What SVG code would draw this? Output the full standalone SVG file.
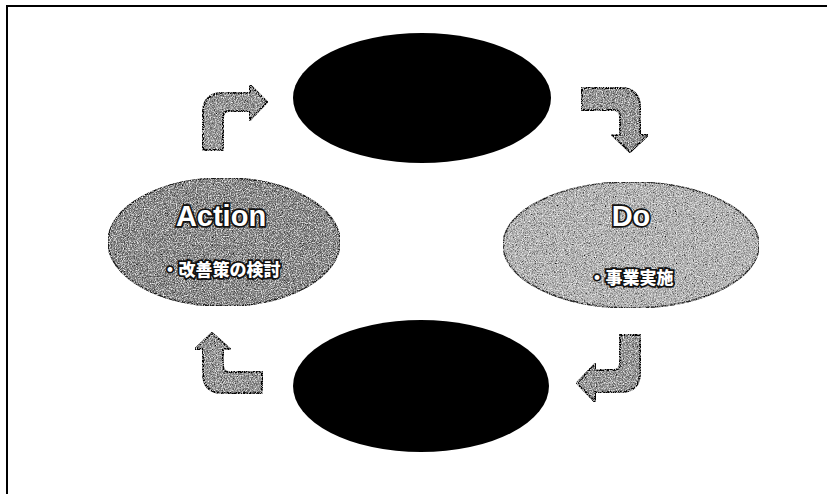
<svg xmlns="http://www.w3.org/2000/svg" width="827" height="494" viewBox="0 0 827 494">
  <style>
    .frame { fill: none; stroke: #000; stroke-width: 2; }
    .dark { fill: #000; }
    .arrow { fill: #8c8c8c; stroke: #111; stroke-width: 2; stroke-linejoin: round; }
    .lbl { font-family: "Liberation Sans", "Noto Sans CJK JP", sans-serif; font-weight: bold; fill: #fff; stroke: #111; stroke-width: 3.5; paint-order: stroke; text-anchor: middle; }
    .big { font-size: 29px; }
    .small { font-size: 17px; font-family: "Noto Sans CJK JP", sans-serif; font-weight: 900; }
  </style>
  <defs>
    <filter id="grain" x="0" y="0" width="100%" height="100%">
      <feTurbulence type="fractalNoise" baseFrequency="0.9" numOctaves="2" seed="4" result="n"/>
      <feColorMatrix in="n" type="matrix" values="0 0 0 0 0  0 0 0 0 0  0 0 0 0 0  2.4 0 0 0 -1.0" result="blk"/>
      <feComposite in="blk" in2="SourceGraphic" operator="in" result="blkIn"/>
      <feTurbulence type="fractalNoise" baseFrequency="0.85" numOctaves="2" seed="9" result="n2"/>
      <feColorMatrix in="n2" type="matrix" values="0 0 0 0 1  0 0 0 0 1  0 0 0 0 1  2.4 0 0 0 -1.1" result="wht"/>
      <feComposite in="wht" in2="SourceGraphic" operator="in" result="whtIn"/>
      <feMerge><feMergeNode in="SourceGraphic"/><feMergeNode in="blkIn"/><feMergeNode in="whtIn"/></feMerge>
    </filter>
  </defs>

  <path class="frame" d="M7,494 L7,6 L827,6"/>

  <g id="plan">
    <ellipse class="dark" cx="422" cy="98" rx="129" ry="65"/>
  </g>
  <g id="do">
    <ellipse cx="631" cy="245" rx="128" ry="63" fill="#b4b4b4" stroke="#333" stroke-width="1.5" filter="url(#grain)"/>
    <text class="lbl big" x="631" y="226">Do</text>
    <text class="lbl small" x="631" y="284">・事業実施</text>
  </g>
  <g id="check">
    <ellipse class="dark" cx="421" cy="386" rx="128" ry="66"/>
  </g>
  <g id="action">
    <ellipse cx="224" cy="242" rx="116" ry="64" fill="#7e7e7e" stroke="#222" stroke-width="1.5" filter="url(#grain)"/>
    <text class="lbl big" x="221" y="226">Action</text>
    <text class="lbl small" x="221" y="276">・改善策の検討</text>
  </g>

  <g id="connectors" filter="url(#grain)">
    <path class="arrow" d="M203,150 L203,113 Q203,93 223,93 L250,93 L250,85 L267,102 L250,120 L250,111 L229,111 Q223,111 223,117 L223,150 Z"/>
    <path class="arrow" d="M582,88 L620,88 Q640,88 640,108 L640,135 L648,135 L630,152 L612,135 L620,135 L620,116 Q620,110 614,110 L582,110 Z"/>
    <path class="arrow" d="M620,335 L640,335 L640,372 Q640,392 620,392 L595,392 L595,402 L577,383 L595,364 L595,370 L614,370 Q620,370 620,364 Z"/>
    <path class="arrow" d="M212,333 L230,349 L223,349 L223,366 Q223,372 229,372 L262,372 L262,393 L223,393 Q203,393 203,373 L203,349 L195,349 Z"/>
  </g>
</svg>
